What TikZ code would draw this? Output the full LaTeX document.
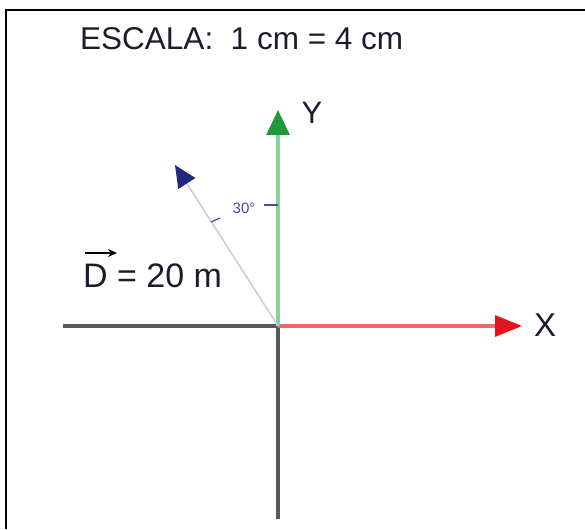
\documentclass[tikz,border=0pt]{standalone}
\usepackage{fontspec}
\setmainfont{Liberation Sans}
\usetikzlibrary{arrows.meta}
\definecolor{txt}{HTML}{1C1C2C}
\definecolor{axgray}{HTML}{5A5A5A}
\definecolor{axred}{HTML}{E86A70}
\definecolor{tipred}{HTML}{E3141E}
\definecolor{axgreen}{HTML}{86D29A}
\definecolor{tipgreen}{HTML}{1E9A3C}
\definecolor{dline}{HTML}{C9C9E2}
\definecolor{tipnavy}{HTML}{1F2A7E}
\definecolor{angcol}{HTML}{4B4B98}
\tikzset{
  label text/.style={text=txt, inner sep=0pt},
  axis/.style={line width=3.2pt},
  frame/.style={line width=2pt, black}
}
\begin{document}
\begin{tikzpicture}[x=1pt,y=-1pt]
\useasboundingbox (0,0) rectangle (585,529);
% frame
\draw[frame] (6,529) -- (6,10) -- (585,10);
% title
\node[label text, anchor=base west, font=\fontsize{31.5}{36}\selectfont] (title) at (80,50) {ESCALA:\ \ 1 cm = 4 cm};
% coordinates
\coordinate (O) at (278,326);
\coordinate (L) at (63,326);
\coordinate (B) at (278,519);
\coordinate (Xe) at (522,326);
\coordinate (Ye) at (278,110);
\coordinate (De) at (175,165);
% axes
\draw[axis, axgray] (L) -- (O);
\draw[axis, axgray] (O) -- (B);
\draw[axis, axred, -{Triangle[length=27pt,width=21pt,color=tipred]}] (O) -- (Xe);
\draw[axis, axgreen, -{Triangle[length=25pt,width=23pt,color=tipgreen]}] (O) -- (Ye);
\draw[line width=1.5pt, dline, -{Triangle[length=22pt,width=20pt,color=tipnavy]}] (O) -- (De);
% axis labels
\node[label text, font=\fontsize{33}{36}\selectfont] (xl) at (545,325) {X};
\node[label text, font=\fontsize{31}{36}\selectfont] (yl) at (312,113) {Y};
% angle annotation
\node[text=angcol, inner sep=0pt, font=\fontsize{15}{18}\selectfont] (ang) at (244,208) {30°};
\coordinate (a1) at (211,222);
\coordinate (a2) at (220,218);
\coordinate (a3) at (264,205);
\coordinate (a4) at (278,205);
\draw[angcol, line width=1.2pt] (a1) -- (a2);
\draw[angcol, line width=1.2pt] (a3) -- (a4);
% D label
\node[label text, anchor=base west, font=\fontsize{34}{40}\selectfont] (dl) at (83,287) {D = 20 m};
\coordinate (v1) at (85,253);
\coordinate (v2) at (117,253);
\draw[black, line width=1.6pt, -{Stealth[length=9pt,width=8pt]}] (v1) -- (v2);
\end{tikzpicture}
\end{document}
